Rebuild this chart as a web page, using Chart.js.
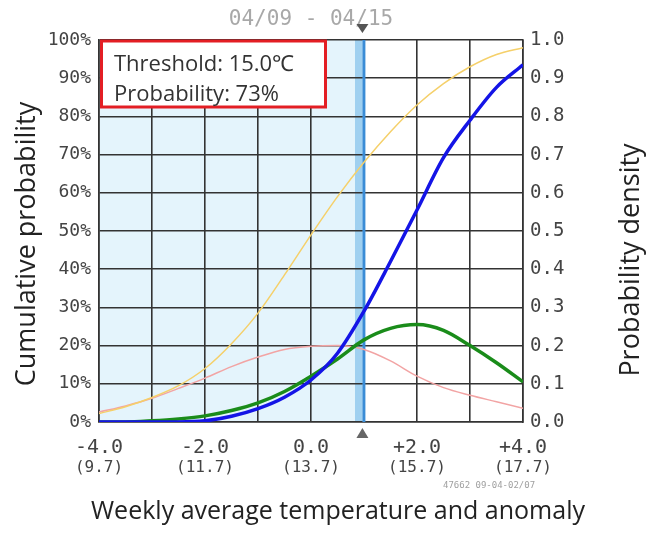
<!DOCTYPE html>
<html>
<head>
<meta charset="utf-8">
<title>Weekly average temperature probability</title>
<script src="https://cdn.jsdelivr.net/npm/chart.js@4.4.1/dist/chart.umd.min.js"></script>
<style>
  body { margin: 0; background: #fff; }
  canvas { display: block; }
</style>
</head>
<body>
<canvas id="chart" width="647" height="533"></canvas>
<script>
// values every 0.5 degC of anomaly
const anomaly = [-4, -3.5, -3, -2.5, -2, -1.5, -1, -0.5, 0, 0.5, 1, 1.5, 2, 2.5, 3, 3.5, 4];
const climCumulative = [0.022, 0.04, 0.064, 0.095, 0.14, 0.205, 0.285, 0.385, 0.49, 0.59, 0.68, 0.76, 0.83, 0.886, 0.93, 0.962, 0.98];
const climDensity = [0.026, 0.042, 0.062, 0.088, 0.115, 0.145, 0.17, 0.19, 0.198, 0.2, 0.19, 0.16, 0.12, 0.09, 0.07, 0.053, 0.036];
const fcstCumulative = [0, 0, 0, 0, 0.003, 0.015, 0.035, 0.065, 0.11, 0.18, 0.29, 0.42, 0.555, 0.692, 0.79, 0.876, 0.935];
const fcstDensity = [0, 0, 0.003, 0.008, 0.016, 0.03, 0.05, 0.08, 0.12, 0.165, 0.215, 0.245, 0.255, 0.24, 0.2, 0.155, 0.105];

const xTickValues = [-4, -2, 0, 2, 4];
const xSubLabels = ['(9.7)', '(11.7)', '(13.7)', '(15.7)', '(17.7)'];
const periodLabel = '04/09 - 04/15';
const stampLabel = '47662 09-04-02/07';
const infoLines = ['Threshold: 15.0\u2103', 'Probability: 73%'];
const thresholdAnom = 0.97;
const bandStart = 0.83;

const MONO = '"DejaVu Sans Mono", monospace';
const SANS = '"Open Sans", sans-serif';

const pts = ys => anomaly.map((x, i) => ({ x, y: ys[i] }));

const decor = {
  id: 'decor',
  beforeDraw(chart) {
    const { ctx, chartArea: a, scales: { x } } = chart;
    const xb = x.getPixelForValue(bandStart);
    const xt = x.getPixelForValue(thresholdAnom);
    ctx.save();
    ctx.fillStyle = '#e4f4fc';
    ctx.fillRect(a.left, a.top, xb - a.left, a.bottom - a.top);
    ctx.fillStyle = '#9fd0f0';
    ctx.fillRect(xb, a.top, xt - xb, a.bottom - a.top);
    ctx.restore();
  },
  beforeDatasetsDraw(chart) {
    const { ctx, chartArea: a, scales: { x } } = chart;
    const xt = x.getPixelForValue(thresholdAnom);
    ctx.save();
    ctx.strokeStyle = '#3a8cd6';
    ctx.lineWidth = 3;
    ctx.beginPath();
    ctx.moveTo(xt + 1.5, a.top);
    ctx.lineTo(xt + 1.5, a.bottom);
    ctx.stroke();
    ctx.restore();
  },
  afterDraw(chart) {
    const { ctx, chartArea: a, scales: { x } } = chart;
    const xt = x.getPixelForValue(thresholdAnom);
    ctx.save();

    // info box
    ctx.fillStyle = '#fff';
    ctx.fillRect(a.left + 1, a.top, 226, 67);
    ctx.strokeStyle = '#e31e24';
    ctx.lineWidth = 3;
    ctx.strokeRect(a.left + 2.5, a.top + 1, 224, 66);
    ctx.fillStyle = '#333';
    ctx.font = '22px ' + SANS;
    ctx.textAlign = 'left';
    ctx.textBaseline = 'alphabetic';
    ctx.fillText(infoLines[0], a.left + 15, a.top + 31);
    ctx.fillText(infoLines[1], a.left + 15, a.top + 61);

    // period label + markers
    ctx.fillStyle = '#a8a8a8';
    ctx.font = '21px ' + MONO;
    ctx.textAlign = 'center';
    ctx.textBaseline = 'middle';
    ctx.fillText(periodLabel, (a.left + a.right) / 2, 20);

    ctx.fillStyle = '#555';
    ctx.beginPath();
    ctx.moveTo(xt - 6, a.top - 16);
    ctx.lineTo(xt + 6, a.top - 16);
    ctx.lineTo(xt, a.top - 7);
    ctx.closePath();
    ctx.fill();

    ctx.fillStyle = '#666';
    ctx.beginPath();
    ctx.moveTo(xt, a.bottom + 6);
    ctx.lineTo(xt - 6, a.bottom + 16);
    ctx.lineTo(xt + 6, a.bottom + 16);
    ctx.closePath();
    ctx.fill();

    // actual temperatures under anomaly ticks
    ctx.fillStyle = '#444';
    ctx.font = '16px ' + MONO;
    xTickValues.forEach((v, i) => {
      ctx.fillText(xSubLabels[i], x.getPixelForValue(v), a.bottom + 46);
    });

    ctx.fillStyle = '#a0a0a0';
    ctx.font = '9px ' + MONO;
    ctx.textAlign = 'left';
    ctx.fillText(stampLabel, 443, 486);

    // axis titles
    ctx.fillStyle = '#222';
    ctx.textAlign = 'center';
    ctx.textBaseline = 'alphabetic';
    ctx.font = '25px ' + SANS;
    ctx.fillText('Weekly average temperature and anomaly', 338, 519);

    ctx.font = '27px ' + SANS;
    ctx.save();
    ctx.translate(35, 244);
    ctx.rotate(-Math.PI / 2);
    ctx.fillText('Cumulative probability', 0, 0);
    ctx.restore();

    ctx.save();
    ctx.translate(639, 260);
    ctx.rotate(-Math.PI / 2);
    ctx.fillText('Probability density', 0, 0);
    ctx.restore();

    ctx.restore();
  }
};

new Chart(document.getElementById('chart'), {
  type: 'line',
  data: {
    datasets: [
      { label: 'Forecast cumulative', data: pts(fcstCumulative), yAxisID: 'yCum', borderColor: '#1414e6', borderWidth: 3.5 },
      { label: 'Forecast density', data: pts(fcstDensity), yAxisID: 'yDen', borderColor: '#1a8c1a', borderWidth: 3.5 },
      { label: 'Climate cumulative', data: pts(climCumulative), yAxisID: 'yCum', borderColor: '#f5d06a', borderWidth: 1.5 },
      { label: 'Climate density', data: pts(climDensity), yAxisID: 'yDen', borderColor: '#f2a4a4', borderWidth: 1.5 },
    ],
  },
  options: {
    responsive: false,
    animation: false,
    layout: { padding: { top: 40, left: 0, right: 0, bottom: 0 } },
    elements: {
      point: { radius: 0 },
      line: { cubicInterpolationMode: 'monotone', fill: false },
    },
    plugins: {
      legend: { display: false },
      tooltip: { enabled: false },
    },
    scales: {
      x: {
        type: 'linear',
        min: -4,
        max: 4,
        afterFit: s => { s.height = 111; },
        ticks: {
          stepSize: 1,
          autoSkip: false,
          maxRotation: 0,
          padding: 14,
          color: '#444',
          font: { family: MONO, size: 20 },
          callback: v => xTickValues.includes(v) ? (v > 0 ? '+' : '') + v.toFixed(1) : '',
        },
        grid: { color: '#333', lineWidth: 1.6, drawTicks: false },
        border: { color: '#333', width: 1.6 },
      },
      yCum: {
        position: 'left',
        min: 0,
        max: 1,
        afterFit: s => { s.width = 99; },
        ticks: {
          stepSize: 0.1,
          padding: 8,
          color: '#444',
          font: { family: MONO, size: 18 },
          callback: v => Math.round(v * 100) + '%',
        },
        grid: { color: '#333', lineWidth: 1.6, drawTicks: false },
        border: { color: '#333', width: 1.6 },
      },
      yDen: {
        position: 'right',
        min: 0,
        max: 1,
        afterFit: s => { s.width = 124; },
        ticks: {
          stepSize: 0.1,
          padding: 7,
          color: '#444',
          font: { family: MONO, size: 19 },
          callback: v => v.toFixed(1),
        },
        grid: { display: false, drawTicks: false },
        border: { color: '#333', width: 1.6 },
      },
    },
  },
  plugins: [decor],
});
</script>
</body>
</html>
